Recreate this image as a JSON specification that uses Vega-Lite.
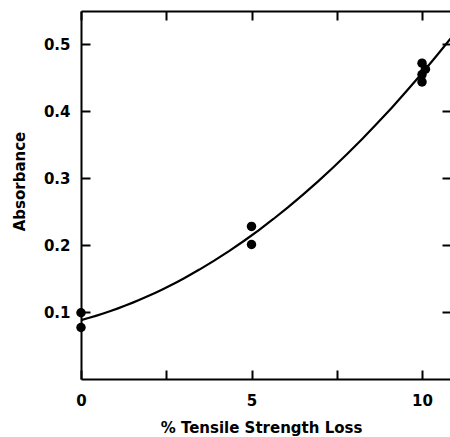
{
  "$schema": "https://vega.github.io/schema/vega-lite/v6.json",
  "autosize": "none",
  "padding": {"left": 81, "top": 11, "right": 0, "bottom": 58},
  "width": 370,
  "height": 368,
  "background": "white",
  "config": {
    "view": {"stroke": null},
    "axis": {
      "grid": false,
      "domainColor": "black",
      "domainWidth": 2,
      "tickColor": "black",
      "tickWidth": 2,
      "tickSize": -9,
      "labelFlush": false,
      "labelFont": "DejaVu Sans",
      "labelFontWeight": "bold",
      "labelFontSize": 15,
      "labelColor": "black",
      "titleFont": "DejaVu Sans",
      "titleFontWeight": "bold",
      "titleFontSize": 15,
      "titleColor": "black"
    }
  },
  "data": {
    "values": [
      {"loss": 0, "absorbance": 0.099},
      {"loss": 0, "absorbance": 0.077},
      {"loss": 5, "absorbance": 0.228},
      {"loss": 5, "absorbance": 0.201},
      {"loss": 10, "absorbance": 0.472},
      {"loss": 10.1, "absorbance": 0.463},
      {"loss": 10, "absorbance": 0.455},
      {"loss": 10, "absorbance": 0.444}
    ]
  },
  "layer": [
    {
      "transform": [
        {"regression": "absorbance", "on": "loss", "method": "poly", "order": 2, "extent": [0, 10.85]}
      ],
      "mark": {"type": "line", "color": "black", "strokeWidth": 2.2, "clip": true},
      "encoding": {
        "x": {
          "field": "loss", "type": "quantitative",
          "scale": {"domain": [0, 10.85], "nice": false, "zero": false},
          "axis": {
            "orient": "bottom",
            "title": "% Tensile Strength Loss",
            "values": [0, 2.5, 5, 7.5, 10],
            "labelExpr": "datum.value % 5 == 0 ? format(datum.value, 'd') : ''",
            "labelPadding": 23,
            "titlePadding": 12,
            "titleX": 180
          }
        },
        "y": {
          "field": "absorbance", "type": "quantitative",
          "scale": {"domain": [0, 0.55], "nice": false},
          "axis": {
            "orient": "left",
            "title": "Absorbance",
            "values": [0.1, 0.2, 0.3, 0.4, 0.5],
            "format": ".1f",
            "labelPadding": 20,
            "titlePadding": 16,
            "titleY": 170
          }
        }
      }
    },
    {
      "mark": {"type": "circle", "color": "black", "opacity": 1, "size": 90},
      "encoding": {
        "x": {
          "field": "loss", "type": "quantitative",
          "axis": {"orient": "top", "title": null, "labels": false, "values": [0, 2.5, 5, 7.5, 10]}
        },
        "y": {
          "field": "absorbance", "type": "quantitative",
          "axis": {"orient": "right", "title": null, "labels": false, "values": [0.1, 0.2, 0.3, 0.4, 0.5]}
        }
      }
    }
  ],
  "resolve": {"axis": {"x": "independent", "y": "independent"}}
}
